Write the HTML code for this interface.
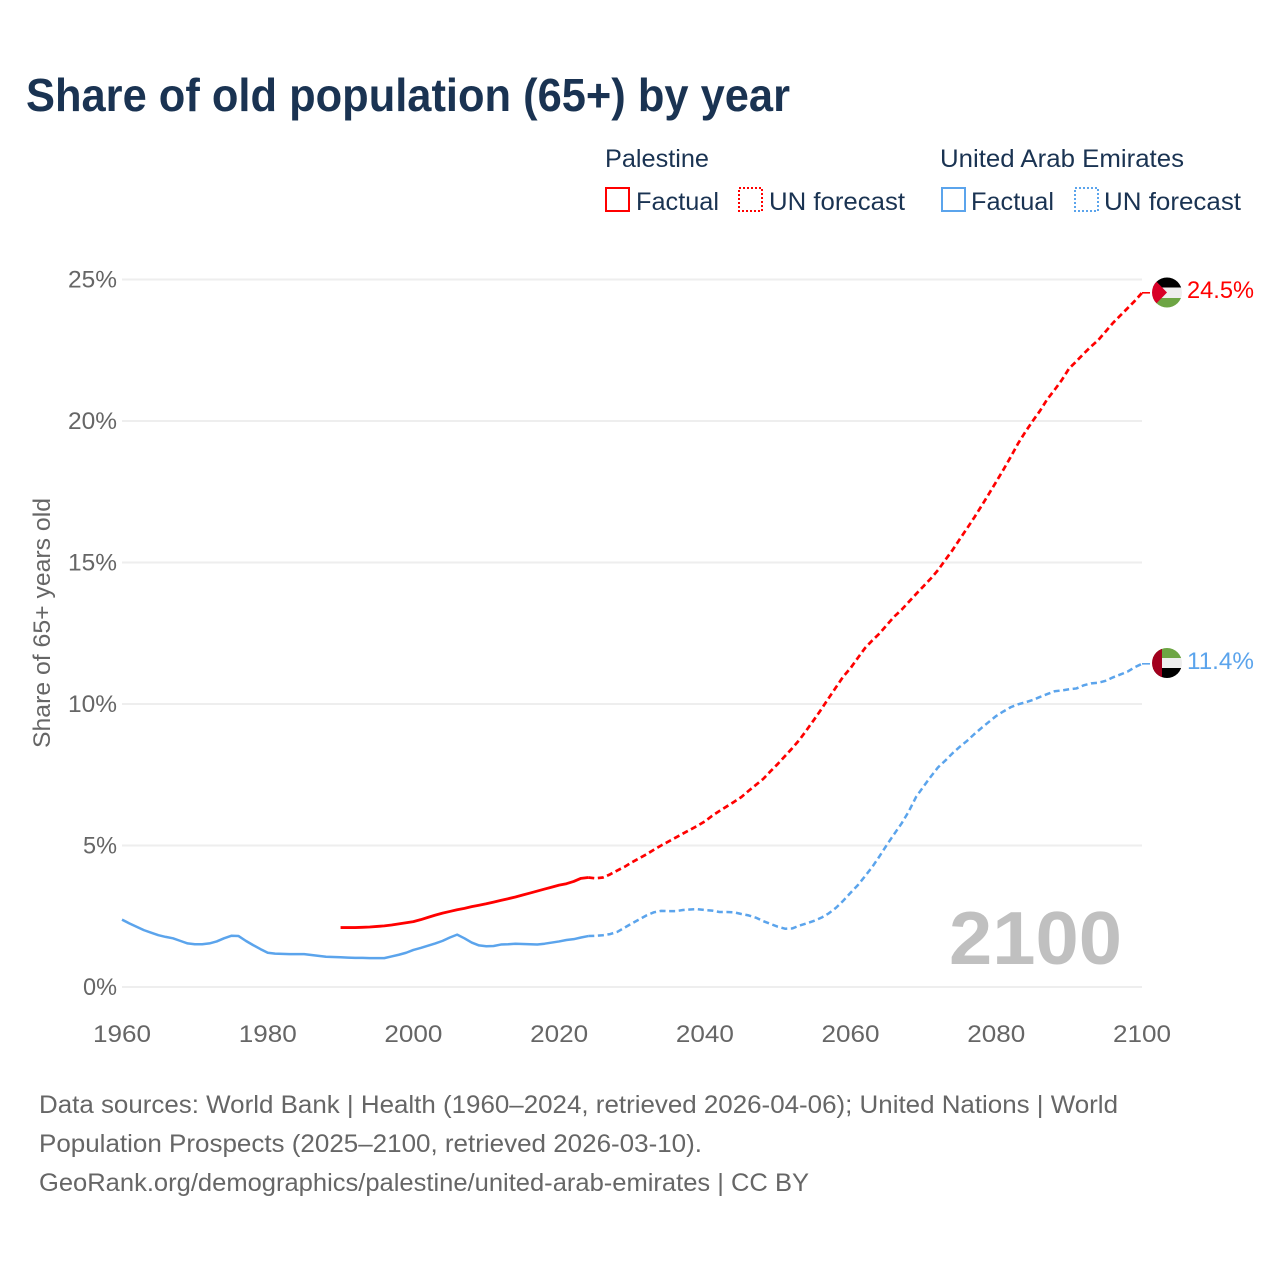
<!DOCTYPE html>
<html lang="en">
<head>
<meta charset="utf-8">
<title>Share of old population (65+) by year</title>
<style>
html,body{margin:0;padding:0;background:#fff;width:1280px;height:1280px;overflow:hidden}
svg{display:block}
text{font-family:"Liberation Sans",sans-serif}
</style>
</head>
<body>
<svg id="chart" width="1280" height="1280" viewBox="0 0 1280 1280" xmlns="http://www.w3.org/2000/svg">
  <text x="26" y="111" font-size="46" font-weight="700" fill="#1a3352" textLength="764" lengthAdjust="spacingAndGlyphs">Share of old population (65+) by year</text>

  <g fill="#1a3352" font-size="25">
    <text x="605" y="167" textLength="104" lengthAdjust="spacingAndGlyphs">Palestine</text>
    <text x="940" y="167" textLength="244" lengthAdjust="spacingAndGlyphs">United Arab Emirates</text>
    <rect x="606" y="188" width="23" height="23" fill="none" stroke="#ff0000" stroke-width="2" shape-rendering="crispEdges"/>
    <text x="636" y="210" textLength="83" lengthAdjust="spacingAndGlyphs">Factual</text>
    <rect x="739" y="188" width="23" height="23" fill="none" stroke="#ff0000" stroke-width="2" stroke-dasharray="2 2" shape-rendering="crispEdges"/>
    <text x="769" y="210" textLength="136" lengthAdjust="spacingAndGlyphs">UN forecast</text>
    <rect x="942" y="188" width="23" height="23" fill="none" stroke="#5ba4ec" stroke-width="2" shape-rendering="crispEdges"/>
    <text x="971" y="210" textLength="83" lengthAdjust="spacingAndGlyphs">Factual</text>
    <rect x="1075" y="188" width="23" height="23" fill="none" stroke="#5ba4ec" stroke-width="2" stroke-dasharray="2 2" shape-rendering="crispEdges"/>
    <text x="1104" y="210" textLength="137" lengthAdjust="spacingAndGlyphs">UN forecast</text>
  </g>

  <g id="grid"></g>
  <g id="yticks"></g>
  <g id="xticks"></g>
  <text transform="translate(50,623) rotate(-90)" text-anchor="middle" font-size="24" fill="#666666" textLength="250" lengthAdjust="spacingAndGlyphs">Share of 65+ years old</text>

  <text x="949" y="964" font-size="75" font-weight="700" fill="#c0c0c0" textLength="173" lengthAdjust="spacingAndGlyphs">2100</text>

  <g id="series"></g>

  <defs>
    <clipPath id="flag-clip-ps"><circle cx="1167" cy="292.5" r="15"/></clipPath>
    <clipPath id="flag-clip-ae"><circle cx="1167" cy="663" r="15"/></clipPath>
  </defs>
  <g clip-path="url(#flag-clip-ps)">
    <rect x="1152" y="277" width="30" height="10.5" fill="#000000"/>
    <rect x="1152" y="287.5" width="30" height="10.5" fill="#eeeeee"/>
    <rect x="1152" y="298" width="30" height="10.5" fill="#6da544"/>
    <polygon points="1152,277 1167,292.5 1152,308" fill="#d80027"/>
  </g>
  <g clip-path="url(#flag-clip-ae)">
    <rect x="1152" y="648" width="30" height="10" fill="#6da544"/>
    <rect x="1152" y="658" width="30" height="10" fill="#eeeeee"/>
    <rect x="1152" y="668" width="30" height="10" fill="#000000"/>
    <rect x="1152" y="648" width="10" height="30" fill="#a2001d"/>
  </g>
  <text x="1187" y="298" font-size="24" fill="#ff0000" textLength="67" lengthAdjust="spacingAndGlyphs">24.5%</text>
  <text x="1187" y="669" font-size="24" fill="#5ba4ec" textLength="67" lengthAdjust="spacingAndGlyphs">11.4%</text>

  <g font-size="25" fill="#666666">
    <text x="39" y="1113" textLength="1079" lengthAdjust="spacingAndGlyphs">Data sources: World Bank | Health (1960–2024, retrieved 2026-04-06); United Nations | World</text>
    <text x="39" y="1152" textLength="663" lengthAdjust="spacingAndGlyphs">Population Prospects (2025–2100, retrieved 2026-03-10).</text>
    <text x="39" y="1191" textLength="770" lengthAdjust="spacingAndGlyphs">GeoRank.org/demographics/palestine/united-arab-emirates | CC BY</text>
  </g>
</svg>
<script>
const yTickValues = [0, 5, 10, 15, 20, 25];
const xTickValues = [1960, 1980, 2000, 2020, 2040, 2060, 2080, 2100];

const uaeFactualStart = 1960;
const uaeFactual = [2.38,2.25,2.13,2.01,1.92,1.83,1.77,1.72,1.63,1.54,1.51,1.51,1.54,1.61,1.72,1.81,1.80,1.63,1.48,1.34,1.21,1.18,1.17,1.16,1.16,1.16,1.13,1.10,1.07,1.06,1.05,1.04,1.03,1.03,1.02,1.02,1.02,1.08,1.14,1.21,1.31,1.38,1.46,1.54,1.63,1.75,1.85,1.72,1.57,1.47,1.44,1.45,1.50,1.51,1.53,1.52,1.51,1.50,1.53,1.57,1.61,1.66,1.69,1.75,1.80];

const uaeForecastStart = 2024;
const uaeForecast = [1.80,1.81,1.83,1.87,1.95,2.10,2.25,2.39,2.53,2.64,2.69,2.68,2.68,2.72,2.74,2.75,2.72,2.70,2.65,2.65,2.64,2.58,2.53,2.45,2.33,2.23,2.13,2.06,2.07,2.17,2.25,2.34,2.45,2.60,2.80,3.05,3.33,3.60,3.92,4.25,4.63,5.03,5.41,5.78,6.21,6.72,7.08,7.43,7.76,8.00,8.26,8.49,8.70,8.94,9.16,9.37,9.58,9.74,9.89,9.99,10.06,10.14,10.25,10.35,10.45,10.48,10.52,10.55,10.66,10.73,10.75,10.82,10.94,11.04,11.14,11.30,11.42];

const palestineFactualStart = 1990;
const palestineFactual = [2.10,2.10,2.10,2.11,2.12,2.14,2.16,2.19,2.23,2.27,2.31,2.38,2.46,2.54,2.61,2.67,2.73,2.78,2.84,2.89,2.94,3.00,3.06,3.12,3.18,3.25,3.32,3.39,3.46,3.53,3.60,3.65,3.73,3.84,3.87];

const palestineForecastStart = 2024;
const palestineForecast = [3.87,3.84,3.87,3.98,4.12,4.25,4.41,4.55,4.69,4.85,5.00,5.14,5.28,5.42,5.56,5.70,5.85,6.05,6.22,6.38,6.54,6.71,6.93,7.14,7.35,7.62,7.88,8.16,8.44,8.74,9.09,9.45,9.82,10.21,10.59,10.97,11.27,11.63,11.98,12.25,12.50,12.80,13.09,13.33,13.61,13.89,14.16,14.43,14.73,15.09,15.44,15.83,16.21,16.60,17.01,17.43,17.86,18.29,18.74,19.21,19.62,20.00,20.36,20.77,21.10,21.45,21.86,22.11,22.38,22.63,22.86,23.16,23.46,23.72,23.98,24.24,24.53];

function xScale(year) { return 122 + (year - 1960) * (1142 - 122) / (2100 - 1960); }
function yScale(v) { return 987 - v * (987 - 279.5) / 25; }

const NS = 'http://www.w3.org/2000/svg';
const gridGroup = document.getElementById('grid');
const yGroup = document.getElementById('yticks');
const xGroup = document.getElementById('xticks');
const seriesGroup = document.getElementById('series');

yTickValues.forEach(function (v) {
  const line = document.createElementNS(NS, 'line');
  
  
  line.setAttribute('x1', xScale(1960));
  line.setAttribute('x2', xScale(2100));
  line.setAttribute('y1', yScale(v));
  line.setAttribute('y2', yScale(v));
  line.setAttribute('stroke', '#eeeeee');
  line.setAttribute('stroke-width', '2');
  gridGroup.appendChild(line);

  const label = document.createElementNS(NS, 'text');
  
  
  label.setAttribute('x', 117);
  label.setAttribute('y', yScale(v) + 8);
  label.setAttribute('text-anchor', 'end');
  label.setAttribute('font-size', '24');
  label.setAttribute('fill', '#666666');
  label.setAttribute('textLength', v >= 10 ? 49 : 34);
  label.setAttribute('lengthAdjust', 'spacingAndGlyphs');
  label.textContent = v + '%';
  yGroup.appendChild(label);
});

xTickValues.forEach(function (year) {
  const label = document.createElementNS(NS, 'text');
  
  
  label.setAttribute('x', xScale(year));
  label.setAttribute('y', 1042);
  label.setAttribute('text-anchor', 'middle');
  label.setAttribute('font-size', '24');
  label.setAttribute('fill', '#666666');
  label.setAttribute('textLength', 58);
  label.setAttribute('lengthAdjust', 'spacingAndGlyphs');
  label.textContent = year;
  xGroup.appendChild(label);
});

function linePath(start, values) {
  return values.map(function (v, i) {
    return (i ? 'L' : 'M') + xScale(start + i).toFixed(2) + ' ' + yScale(v).toFixed(2);
  }).join(' ');
}

function drawLine(name, start, values, color, width, dash) {
  const path = document.createElementNS(NS, 'path');
  
  
  path.setAttribute('d', linePath(start, values));
  path.setAttribute('fill', 'none');
  path.setAttribute('stroke', color);
  path.setAttribute('stroke-width', width);
  path.setAttribute('stroke-linejoin', 'round');
  if (dash) path.setAttribute('stroke-dasharray', dash);
  seriesGroup.appendChild(path);
}

function drawConnector(name, value, color) {
  const line = document.createElementNS(NS, 'line');
  
  
  line.setAttribute('x1', xScale(2100));
  line.setAttribute('x2', xScale(2100) + 8);
  line.setAttribute('y1', yScale(value));
  line.setAttribute('y2', yScale(value));
  line.setAttribute('stroke', color);
  line.setAttribute('stroke-width', '1.6');
  seriesGroup.appendChild(line);
}

drawLine('uae-factual-line', uaeFactualStart, uaeFactual, '#5ba4ec', 2.5, null);
drawLine('uae-forecast-line', uaeForecastStart, uaeForecast, '#5ba4ec', 2.5, '6 3.6');
drawLine('palestine-factual-line', palestineFactualStart, palestineFactual, '#ff0000', 2.8, null);
drawLine('palestine-forecast-line', palestineForecastStart, palestineForecast, '#ff0000', 2.7, '6 3.6');
drawConnector('uae-end-connector', uaeForecast[uaeForecast.length - 1], '#5ba4ec');
drawConnector('palestine-end-connector', palestineForecast[palestineForecast.length - 1], '#ff0000');
</script>
</body>
</html>
